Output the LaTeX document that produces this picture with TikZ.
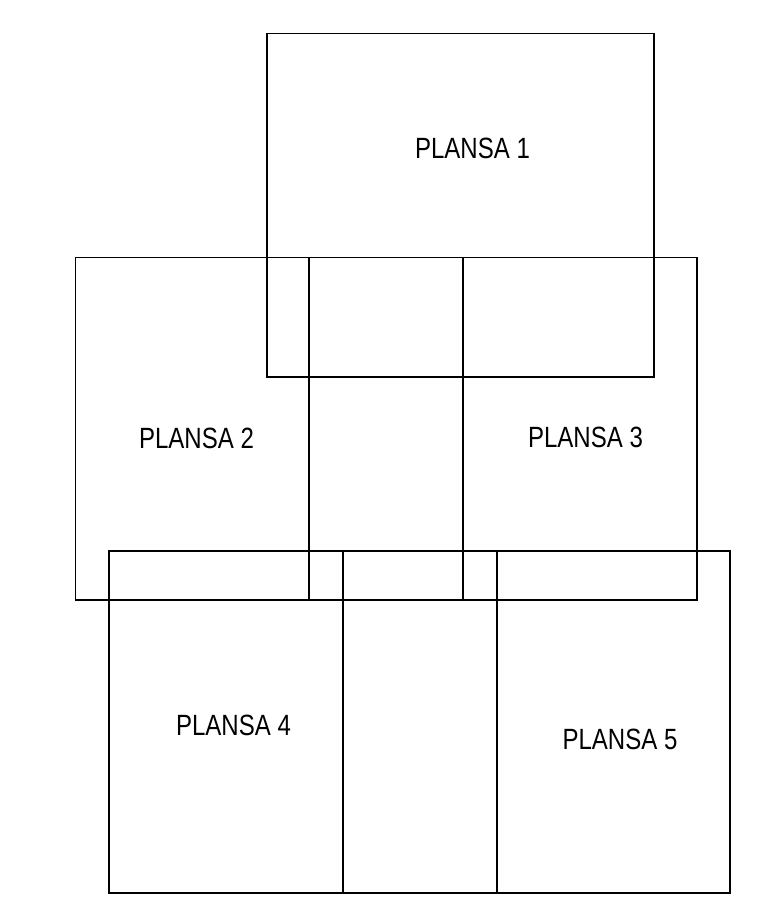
\documentclass[tikz,border=0pt]{standalone}
\usepackage{fontspec}
\setmainfont{Liberation Sans}
\begin{document}
\begin{tikzpicture}[x=1pt,y=-1pt,
  sheet/.style={draw=black,line width=1.2pt},
  lbl/.style={anchor=base,inner sep=0pt,font=\fontsize{29.3}{32}\selectfont,xscale=0.82}]
\useasboundingbox (0,0) rectangle (764,924);
\draw[sheet] (267,33.5) rectangle (654,377);
\draw[sheet] (75.5,257.5) rectangle (463,600);
\draw[sheet] (309,257.5) rectangle (697,600);
\draw[sheet] (109,551) rectangle (497,893);
\draw[sheet] (343,551) rectangle (730,893);
\node[lbl] (p1) at (472.5,158) {PLANSA 1};
\node[lbl] (p2) at (196.5,448) {PLANSA 2};
\node[lbl] (p3) at (585.5,447) {PLANSA 3};
\node[lbl] (p4) at (233.5,735) {PLANSA 4};
\node[lbl] (p5) at (620,749) {PLANSA 5};
\end{tikzpicture}
\end{document}
